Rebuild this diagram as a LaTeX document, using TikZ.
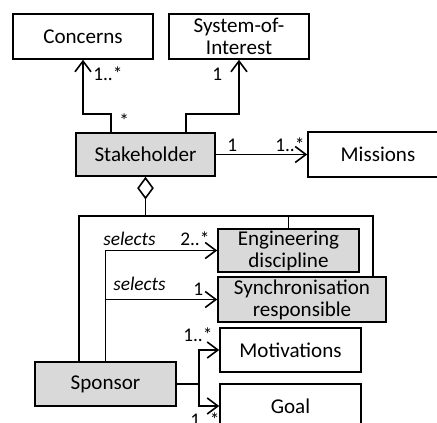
\documentclass[tikz,border=0pt]{standalone}
\usepackage{fontspec}
\setmainfont{Carlito}
\usetikzlibrary{arrows.meta}
\definecolor{boxgray}{RGB}{217,217,217}

\begin{document}
\begin{tikzpicture}[x=0.75pt,y=0.75pt,>={Straight Barb[length=8pt,width=12pt]},
  cls/.style={draw,line width=1.2pt,minimum width=105pt,minimum height=33.75pt,inner sep=0pt,align=center,font=\fontsize{15.8}{16.5}\selectfont},
  actor/.style={cls,fill=boxgray},
  mult/.style={font=\fontsize{14.5}{16}\selectfont,inner sep=0pt,anchor=base west},
  rel/.style={line width=1.2pt,->},
  agg/.style={line width=1.2pt,{Diamond[open,length=17pt,width=12.5pt]}-}]
  \useasboundingbox (0,0) rectangle (437,423);
  \node[cls] (concerns) at (83,386.5) {Concerns};
  \node[cls] (soi) at (239,386.5) {System-of-\\Interest};
  \node[actor,minimum width=104.25pt,minimum height=32.25pt] (stake) at (145.5,268.5) {Stakeholder};
  \node[cls] (missions) at (378,268.5) {Missions};
  \node[actor,minimum width=105.75pt,minimum height=32.25pt] (eng) at (288.5,172.5) {Engineering\\discipline};
  \node[actor,minimum width=126pt] (sync) at (302,123.5) {Synchronisation\\responsible};
  \node[cls,minimum width=105.75pt,minimum height=33pt] (motiv) at (290.5,73) {Motivations};
  \node[cls,minimum width=105.75pt,minimum height=33pt] (goal) at (290.5,17) {Goal};
  \node[actor,minimum width=105.75pt,minimum height=33pt] (sponsor) at (105.5,39) {Sponsor};
  % stakeholder
  \draw[rel] (stake.north -| 111,0) -- ++(0,18) -| (concerns.south);
  \draw[rel] (stake.north -| 186,0) -- ++(0,18) -| (soi.south);
  \draw[rel] (stake.east) -- (missions.west);
  \draw[agg] (stake.south) -- ++(0,-39) coordinate (bus);
  \draw[line width=1.2pt] (sponsor.north -| 79,0) |- (bus) -| (sync.north -| 373,0);
  \draw[line width=1.2pt] (bus -| eng.north) -- (eng.north);
  % sponsor
  \draw[rel] (sponsor.north) |- (eng.west);
  \draw[rel] (sponsor.north |- sync.west) -- (sync.west);
  \draw[line width=1.2pt] (sponsor.east) -- ++(22,0) coordinate (fork);
  \draw[rel] (fork) |- (motiv.west);
  \draw[rel] (fork) |- (goal.west);
  % multiplicities
  \node[mult] (mc1) at (93,342) {1..*};
  \node[mult] (mc2) at (119,295.5) {*};
  \node[mult] (ms1) at (212,342) {1};
  \node[mult] (mm1) at (227,271) {1};
  \node[mult] (mm2) at (275,271) {1..*};
  \node[mult,font=\fontsize{14.5}{16}\selectfont\itshape] (sel1) at (103,177) {selects};
  \node[mult] (me1) at (180,177) {2..*};
  \node[mult,font=\fontsize{14.5}{16}\selectfont\itshape] (sel2) at (113,132) {selects};
  \node[mult] (my1) at (193,127) {1};
  \node[mult] (mo1) at (183,81) {1..*};
  \node[mult] (mg1) at (190,-4) {1..*};
\end{tikzpicture}
\end{document}
